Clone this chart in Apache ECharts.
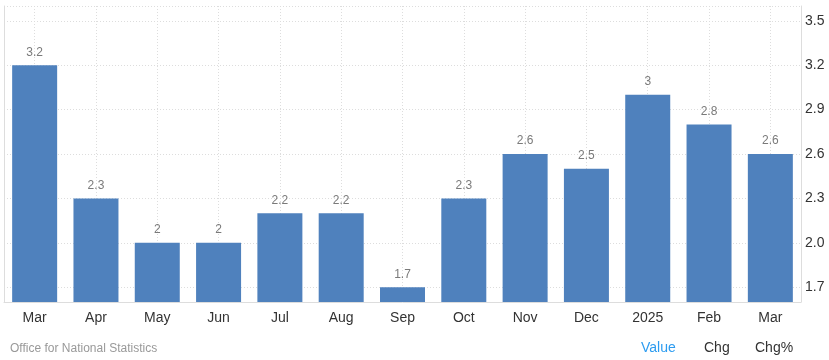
<!DOCTYPE html>
<html>
<head>
<meta charset="utf-8">
<script src="https://cdn.jsdelivr.net/npm/echarts@6/dist/echarts.min.js"></script>
<style>
html,body{margin:0;padding:0;background:#fff;}
#chart{width:829px;height:360px;position:relative;}
.src{position:absolute;left:10px;top:341px;font:12px "Liberation Sans",Arial,sans-serif;color:#999;}
.tabs{position:absolute;top:339px;font:14px "Liberation Sans",Arial,sans-serif;color:#333;}
</style>
</head>
<body>
<div id="chart"></div>
<script>
const categories = ['Mar','Apr','May','Jun','Jul','Aug','Sep','Oct','Nov','Dec','2025','Feb','Mar'];
const values = [3.2, 2.3, 2, 2, 2.2, 2.2, 1.7, 2.3, 2.6, 2.5, 3, 2.8, 2.6];
const yTickLabels = [1.7, 2.0, 2.3, 2.6, 2.9, 3.2, 3.5];
const yGridValues = [1.7, 2.0, 2.3, 2.6, 2.9, 3.2, 3.5, 3.6];

const chart = echarts.init(document.getElementById('chart'), null, {renderer:'canvas'});
chart.setOption({
  animation: false,
  textStyle: {fontFamily: '"Liberation Sans", Arial, sans-serif'},
  grid: {left: 4, right: 28, top: 6, bottom: 58, containLabel: false},
  xAxis: [{
    type: 'category',
    data: categories,
    boundaryGap: true,
    axisLine: {show: true, lineStyle: {color: '#dddddd', width: 1}},
    axisTick: {show: false},
    axisLabel: {color: '#333', fontSize: 14, margin: 9},
    splitLine: {show: true, alignWithLabel: true, lineStyle: {color: '#dddddd', type: [1, 2], width: 1}}
  }],
  yAxis: [{
    type: 'value',
    position: 'right',
    min: 1.6,
    max: 3.6,
    axisLine: {show: true, lineStyle: {color: '#dddddd', width: 1}},
    axisTick: {show: false, customValues: yGridValues},
    axisLabel: {
      color: '#333', fontSize: 14, margin: 4,
      customValues: yTickLabels,
      formatter: v => v.toFixed(1)
    },
    splitLine: {show: true, lineStyle: {color: '#dddddd', type: [1, 2], width: 1}}
  }, {
    type: 'value',
    position: 'left',
    min: 1.6,
    max: 3.6,
    axisLine: {show: true, lineStyle: {color: '#dddddd', width: 1}},
    axisTick: {show: false},
    axisLabel: {show: false},
    splitLine: {show: false}
  }],
  series: [{
    type: 'bar',
    data: values,
    yAxisIndex: 0,
    barWidth: 45,
    itemStyle: {color: '#4f81bd'},
    label: {show: true, position: 'top', distance: 7, color: '#7a7a7a', fontSize: 12}
  }]
});
</script>
<div class="src">Office for National Statistics</div>
<div class="tabs" style="left:641px;color:#2d9cf0;">Value</div>
<div class="tabs" style="left:704px;">Chg</div>
<div class="tabs" style="left:755px;">Chg%</div>
</body>
</html>
